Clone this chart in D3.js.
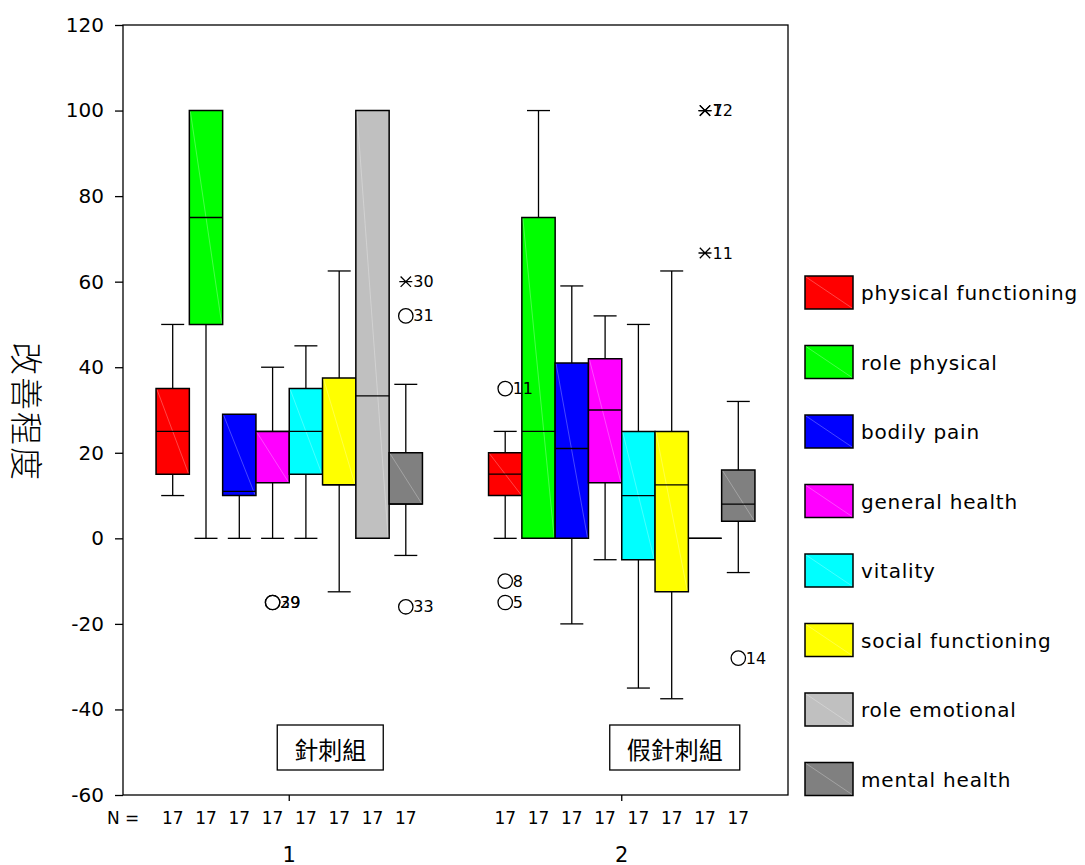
<!DOCTYPE html>
<html>
<head>
<meta charset="utf-8">
<script src="https://cdn.jsdelivr.net/npm/d3@7"></script>
<style>
    body { margin: 0; background: #fff; }
    svg { display: block; }
    text { font-family: "DejaVu Sans", Verdana, sans-serif; fill: #000; }
    .cjk { font-family: "Noto Sans CJK TC", "Noto Sans CJK SC", sans-serif; }
</style>
</head>
<body>
<div id="chart"></div>
<script>
// Groups on the x axis
const groupKeys = ['1', '2'];
const groupLabels = ['針刺組', '假針刺組'];

// SF-36 subscales
const seriesNames = ['physical functioning', 'role physical', 'bodily pain', 'general health',
    'vitality', 'social functioning', 'role emotional', 'mental health'];
const seriesColors = ['#ff0000', '#00ff00', '#0000ff', '#ff00ff', '#00ffff', '#ffff00', '#c0c0c0', '#808080'];

// Sample size per box
const groupN = [
    [17, 17, 17, 17, 17, 17, 17, 17],
    [17, 17, 17, 17, 17, 17, 17, 17]
];

// [min, q1, median, q3, max] per subscale
const acupunctureStats = [
    [10, 15, 25, 35, 50],
    [0, 50, 75, 100, 100],
    [0, 10, 11, 29, 29],
    [0, 13, 25, 25, 40],
    [0, 15, 25, 35, 45],
    [-12.5, 12.5, 12.5, 37.5, 62.5],
    [0, 0, 33.3, 100, 100],
    [-4, 8, 8, 20, 36]
];
const shamStats = [
    [0, 10, 15, 20, 25],
    [0, 0, 25, 75, 100],
    [-20, 0, 21, 41, 59],
    [-5, 13, 30, 42, 52],
    [-35, -5, 10, 25, 50],
    [-37.5, -12.5, 12.5, 25, 62.5],
    [0, 0, 0, 0, 0],
    [-8, 4, 8, 16, 32]
];

// [group index, subscale index, value, case label, kind] (o = outlier, x = extreme)
const outliers = [
    [0, 3, -15, '29', 'o'],
    [0, 3, -15, '39', 'o'],
    [0, 7, 60, '30', 'x'],
    [0, 7, 52, '31', 'o'],
    [0, 7, -16, '33', 'o'],
    [1, 0, 35, '11', 'o'],
    [1, 0, -10, '8', 'o'],
    [1, 0, -15, '5', 'o'],
    [1, 6, 100, '12', 'x'],
    [1, 6, 100, '7', 'x'],
    [1, 6, 66.7, '11', 'x'],
    [1, 7, -28, '14', 'o']
];

const yTicks = [-60, -40, -20, 0, 20, 40, 60, 80, 100, 120];
const yTitle = '改善程度';

const width = 1085;
const height = 865;
const plot = { left: 123, right: 788, top: 25, bottom: 795 };

const svg = d3.select('#chart')
    .append('svg')
    .attr('width', width)
    .attr('height', height);

const y = d3.scaleLinear()
    .domain([-60, 120])
    .range([plot.bottom, plot.top]);

const xGroup = d3.scaleBand()
    .domain(groupKeys)
    .range([plot.left, plot.right]);

const boxStep = 33.3;
const xInner = d3.scaleBand()
    .domain(seriesNames)
    .range([-boxStep * 4, boxStep * 4]);

const groupCenter = g => xGroup(g) + xGroup.bandwidth() / 2;
const boxCenter = (gi, si) => groupCenter(groupKeys[gi]) + xInner(seriesNames[si]) + xInner.bandwidth() / 2;

// Frame
svg.append('rect')
    .attr('x', plot.left)
    .attr('y', plot.top)
    .attr('width', plot.right - plot.left)
    .attr('height', plot.bottom - plot.top)
    .attr('fill', 'none')
    .attr('stroke', '#000')
    .attr('stroke-width', 1.3);

// Y axis
const yAxis = svg.append('g')
    .attr('transform', `translate(${plot.left},0)`)
    .call(d3.axisLeft(y).tickValues(yTicks).tickSize(8).tickPadding(11).tickFormat(d => String(d)));
yAxis.select('.domain').remove();
yAxis.selectAll('line').attr('stroke', '#000').attr('stroke-width', 1.3);
yAxis.selectAll('text')
    .style('font-family', '"DejaVu Sans", Verdana, sans-serif')
    .style('font-size', '20px')
    .attr('fill', '#000');

svg.append('text')
    .attr('class', 'cjk')
    .attr('transform', 'translate(28,412) rotate(90)')
    .attr('text-anchor', 'middle')
    .attr('dominant-baseline', 'central')
    .style('font-size', '33px')
    .style('font-weight', 300)
    .style('letter-spacing', '2px')
    .text(yTitle);

// X axis
const xAxis = svg.append('g')
    .attr('transform', `translate(0,${plot.bottom})`)
    .call(d3.axisBottom(xGroup).tickSize(6).tickPadding(46));
xAxis.select('.domain').remove();
xAxis.selectAll('line').attr('stroke', '#000').attr('stroke-width', 1.3);
xAxis.selectAll('text')
    .style('font-family', '"DejaVu Sans", Verdana, sans-serif')
    .style('font-size', '21px')
    .attr('fill', '#000');

// N labels
svg.append('text')
    .attr('x', 107)
    .attr('y', 824)
    .style('font-size', '17px')
    .text('N =');

groupN.forEach((row, gi) => {
    svg.append('g').selectAll('text')
        .data(row)
        .enter()
        .append('text')
        .attr('x', (d, si) => boxCenter(gi, si))
        .attr('y', 824)
        .attr('text-anchor', 'middle')
        .style('font-size', '17px')
        .text(d => d);
});

// Boxes
const capHalf = 11.5;
const boxW = xInner.bandwidth();

[acupunctureStats, shamStats].forEach((stats, gi) => {
    const g = svg.append('g');
    stats.forEach((s, si) => {
        const [mn, q1, med, q3, mx] = s;
        const cx = boxCenter(gi, si);
        const x0 = cx - boxW / 2;

        // whiskers
        if (mx > q3) {
            g.append('line').attr('x1', cx).attr('x2', cx).attr('y1', y(q3)).attr('y2', y(mx))
                .attr('stroke', '#000').attr('stroke-width', 1.3);
            g.append('line').attr('x1', cx - capHalf).attr('x2', cx + capHalf).attr('y1', y(mx)).attr('y2', y(mx))
                .attr('stroke', '#000').attr('stroke-width', 1.3);
        }
        if (mn < q1) {
            g.append('line').attr('x1', cx).attr('x2', cx).attr('y1', y(q1)).attr('y2', y(mn))
                .attr('stroke', '#000').attr('stroke-width', 1.3);
            g.append('line').attr('x1', cx - capHalf).attr('x2', cx + capHalf).attr('y1', y(mn)).attr('y2', y(mn))
                .attr('stroke', '#000').attr('stroke-width', 1.3);
        }

        // box body
        const top = y(q3);
        const bot = y(q1);
        g.append('path')
            .attr('d', `M${x0},${top}H${x0 + boxW}V${bot}H${x0}Z`)
            .attr('fill', seriesColors[si])
            .attr('stroke', '#000')
            .attr('stroke-width', 1.5);
        if (bot - top > 2) {
            g.append('line')
                .attr('x1', x0 + 1).attr('y1', top + 1)
                .attr('x2', x0 + boxW - 1).attr('y2', bot - 1)
                .attr('stroke', '#fff')
                .attr('stroke-opacity', 0.35)
                .attr('stroke-width', 0.8);
        }

        // median
        g.append('line')
            .attr('x1', x0).attr('x2', x0 + boxW)
            .attr('y1', y(med)).attr('y2', y(med))
            .attr('stroke', '#000')
            .attr('stroke-width', 1.3);
    });
});

// Outliers
const outG = svg.append('g');
outliers.forEach(([gi, si, v, label, kind]) => {
    const cx = boxCenter(gi, si);
    const cy = y(v);
    if (kind === 'o') {
        outG.append('circle')
            .attr('cx', cx).attr('cy', cy).attr('r', 7.2)
            .attr('fill', 'none')
            .attr('stroke', '#000')
            .attr('stroke-width', 1.3);
    } else {
        const r = 6.5;
        outG.append('path')
            .attr('d', `M${cx - r},${cy}H${cx + r}M${cx - r * 0.8},${cy - r * 0.8}L${cx + r * 0.8},${cy + r * 0.8}M${cx - r * 0.8},${cy + r * 0.8}L${cx + r * 0.8},${cy - r * 0.8}`)
            .attr('stroke', '#000')
            .attr('stroke-width', 1.3);
    }
    outG.append('text')
        .attr('x', cx + 7.5)
        .attr('y', cy)
        .attr('dominant-baseline', 'central')
        .style('font-size', '16px')
        .text(label);
});

// Group name boxes
groupKeys.forEach((k, gi) => {
    const left = groupCenter(k) - 12;
    const lg = svg.append('g');
    const t = lg.append('text')
        .attr('class', 'cjk')
        .attr('y', 748)
        .attr('dominant-baseline', 'central')
        .style('font-size', '24px')
        .text(groupLabels[gi]);
    const tw = t.node().getComputedTextLength();
    t.attr('x', left + 17);
    lg.insert('rect', 'text')
        .attr('x', left)
        .attr('y', 725)
        .attr('width', tw + 34)
        .attr('height', 45)
        .attr('fill', '#fff')
        .attr('stroke', '#000')
        .attr('stroke-width', 1.3);
});

// Legend
const legend = svg.append('g').attr('transform', 'translate(805,276)');
const items = legend.selectAll('g')
    .data(seriesNames)
    .enter()
    .append('g')
    .attr('transform', (d, i) => `translate(0,${i * 69.5})`);

items.append('rect')
    .attr('width', 48)
    .attr('height', 33)
    .attr('fill', (d, i) => seriesColors[i])
    .attr('stroke', '#000')
    .attr('stroke-width', 1.5);

items.append('line')
    .attr('x1', 1).attr('y1', 1)
    .attr('x2', 47).attr('y2', 32)
    .attr('stroke', '#fff')
    .attr('stroke-opacity', 0.35)
    .attr('stroke-width', 0.8);

items.append('text')
    .attr('x', 56)
    .attr('y', 17)
    .attr('dominant-baseline', 'central')
    .style('font-size', '20px')
    .style('letter-spacing', '0.8px')
    .text(d => d);
</script>
</body>
</html>
